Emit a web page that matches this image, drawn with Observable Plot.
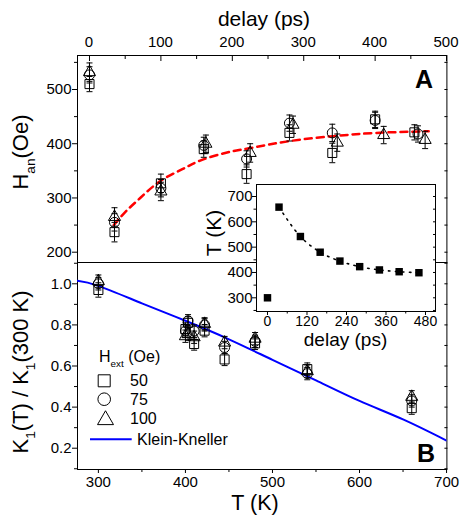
<!DOCTYPE html>
<html><head><meta charset="utf-8">
<script src="https://cdn.jsdelivr.net/npm/d3@7"></script>
<script src="https://cdn.jsdelivr.net/npm/@observablehq/plot@0.6"></script>
<style>
html,body{margin:0;padding:0;background:#fff;overflow:hidden;}
#chart{width:461px;height:518px;}
</style>
</head><body><div id="chart"></div>
<script>
// ---------------- data ----------------
// Panel A: anisotropy field H_an (Oe) vs delay (ps) for three external fields
const delay50  = [0, 35, 100, 160, 220, 280, 340, 400, 455];
const delay75  = [0, 35, 100, 160, 220, 280, 340, 400, 460];
const delay100 = [0, 35, 100, 163, 225, 285, 347, 412, 470];
const han50     = [510, 237, 327, 390, 344, 420, 383, 445, 421];
const han50Err  = [14, 18, 17, 15, 17, 15, 18, 15, 14];
const han75     = [527, 255, 318, 397, 372, 438, 420, 443, 418];
const han75Err  = [15, 16, 16, 15, 15, 15, 16, 15, 15];
const han100    = [532, 265, 312, 400, 383, 435, 402, 416, 407];
const han100Err = [17, 17, 17, 16, 17, 16, 16, 16, 16];
// red dashed guide curve
const fitDelay = [34, 50, 71, 99, 130, 155, 190, 225, 281, 342, 402, 475];
const fitHan   = [250, 274, 300, 331, 353, 369, 383, 392, 405, 414, 420, 423];

// Panel B: K1(T)/K1(300 K) vs T (K)
const tempK   = [300, 660, 540, 480, 445, 422, 410, 403, 400];
const k50     = [0.97, 0.395, 0.585, 0.71, 0.632, 0.772, 0.707, 0.81, 0.78];
const k50Err  = [0.035, 0.03, 0.03, 0.03, 0.03, 0.03, 0.03, 0.03, 0.03];
const k75     = [1.0, 0.43, 0.563, 0.72, 0.69, 0.80, 0.77, 0.82, 0.77];
const k75Err  = [0.03, 0.03, 0.03, 0.03, 0.03, 0.03, 0.03, 0.03, 0.03];
const k100    = [1.013, 0.45, 0.575, 0.733, 0.714, 0.805, 0.74, 0.755, 0.745];
const k100Err = [0.03, 0.03, 0.03, 0.03, 0.03, 0.03, 0.03, 0.03, 0.03];
// Klein-Kneller curve
const kkT     = [276, 300, 350, 400, 450, 500, 550, 600, 650, 700];
const kkRatio = [1.015, 0.99, 0.905, 0.82, 0.73, 0.63, 0.53, 0.43, 0.34, 0.237];

// Inset: temperature T (K) vs delay (ps)
const insetDelay = [0, 35, 100, 160, 220, 280, 340, 400, 460];
const insetTemp  = [300, 658, 542, 480, 445, 423, 410, 403, 399];

// tick values
const delayTicks = [0, 100, 200, 300, 400, 500];
const delayMinor = [50, 150, 250, 350, 450];
const hanTicks = [200, 300, 400, 500];
const hanMinor = [250, 350, 450, 550];
const tempTicks = [300, 400, 500, 600, 700];
const tempMinor = [350, 450, 550, 650];
const ratioTicks = [0.2, 0.4, 0.6, 0.8, 1.0];
const ratioMinor = [0.1, 0.3, 0.5, 0.7, 0.9, 1.1];
const insetDelayTicks = [0, 120, 240, 360, 480];
const insetDelayMinor = [60, 180, 300, 420];
const insetTempTicks = [300, 400, 500, 600, 700];
const insetTempMinor = [250, 350, 450, 550, 650];

// ---------------- layout ----------------
const FONT = "Liberation Sans, Arial, Helvetica, sans-serif";
const W = 461, H = 518;
const L = 77, R = 446.4, TOPA = 55, MID = 262, BOTB = 469;
const IN = {l: 256, r: 435, t: 184, b: 311};

const capSymbol = {draw(ctx, size) { const r = Math.sqrt(size / Math.PI); ctx.moveTo(-r, 0); ctx.lineTo(r, 0); }};
const noText = () => "";

function seriesMarks(series) {
  return series.flatMap(s => [
    Plot.ruleX(s.rows, {x: "x", y1: d => d.y - d.e, y2: d => d.y + d.e, stroke: "black", strokeWidth: 1}),
    Plot.dot(s.rows, {x: "x", y: d => d.y - d.e, symbol: capSymbol, r: 3, stroke: "black", strokeWidth: 1}),
    Plot.dot(s.rows, {x: "x", y: d => d.y + d.e, symbol: capSymbol, r: 3, stroke: "black", strokeWidth: 1}),
    Plot.dot(s.rows, {x: "x", y: "y", symbol: s.symbol, r: s.r, stroke: "black", strokeWidth: 1, fill: "none"})
  ]);
}
const rows = (xs, ys, es) => xs.map((x, i) => ({x, y: ys[i], e: es[i]}));

const seriesA = [
  {symbol: "square", r: 5.1, rows: rows(delay50, han50, han50Err)},
  {symbol: "circle", r: 5, rows: rows(delay75, han75, han75Err)},
  {symbol: "triangle", r: 4.5, rows: rows(delay100, han100, han100Err)}
];
const seriesB = [
  {symbol: "square", r: 5.1, rows: rows(tempK, k50, k50Err)},
  {symbol: "circle", r: 5, rows: rows(tempK, k75, k75Err)},
  {symbol: "triangle", r: 4.5, rows: rows(tempK, k100, k100Err)}
];
const fitRows = fitDelay.map((x, i) => ({x, y: fitHan[i]}));
const kkRows = kkT.map((x, i) => ({x, y: kkRatio[i]}));
const insetRows = insetDelay.map((x, i) => ({x, y: insetTemp[i]}));

const base = {width: W, height: H, style: {fontFamily: FONT, background: "transparent", color: "black"}};

const plotA = Plot.plot({
  ...base, style: {fontFamily: FONT, background: "white", color: "black"},
  marginLeft: L, marginRight: W - R, marginTop: TOPA, marginBottom: H - MID,
  x: {domain: [-16.8, 500.5]}, y: {domain: [181, 562.7]},
  marks: [
    Plot.frame({stroke: "black"}),
    Plot.axisX(delayTicks, {anchor: "top", tickSize: -5, tickFormat: noText, label: null}),
    Plot.axisX(delayMinor, {anchor: "top", tickSize: -3, tickFormat: noText, label: null}),
    Plot.axisY(hanTicks, {anchor: "left", tickSize: 5, tickFormat: noText, label: null}),
    Plot.axisY(hanMinor, {anchor: "left", tickSize: 3, tickFormat: noText, label: null}),
    Plot.axisY(hanTicks, {anchor: "left", tickSize: 0, tickPadding: 6, fontSize: 15, label: null}),
    Plot.axisY(hanTicks.concat(hanMinor), {anchor: "right", tickSize: -3, tickFormat: noText, label: null}),
    Plot.line(fitRows, {x: "x", y: "y", stroke: "#ff0000", strokeWidth: 2.5, strokeDasharray: "7,5", curve: "natural"}),
    ...seriesMarks(seriesA)
  ]
});
const xA = plotA.scale("x");

const plotB = Plot.plot({
  ...base,
  marginLeft: L, marginRight: W - R, marginTop: MID, marginBottom: H - BOTB,
  x: {domain: [276, 700.4]}, y: {domain: [0.0964, 1.1037]},
  marks: [
    Plot.frame({stroke: "black"}),
    Plot.axisX(tempTicks, {anchor: "bottom", tickSize: 4, tickFormat: noText, label: null}),
    Plot.axisX(tempMinor, {anchor: "bottom", tickSize: 3, tickFormat: noText, label: null}),
    Plot.axisX(tempTicks, {anchor: "bottom", tickSize: 0, tickPadding: 7, fontSize: 15, label: null}),
    Plot.axisY(ratioTicks, {anchor: "left", tickSize: 5, tickFormat: noText, label: null}),
    Plot.axisY(ratioMinor, {anchor: "left", tickSize: 3, tickFormat: noText, label: null}),
    Plot.axisY(ratioTicks, {anchor: "left", tickSize: 0, tickPadding: 6, fontSize: 15, tickFormat: d3.format(".1f"), label: null}),
    Plot.axisY(ratioTicks.concat(ratioMinor), {anchor: "right", tickSize: -3, tickFormat: noText, label: null}),
    Plot.line(kkRows, {x: "x", y: "y", stroke: "#0000ff", strokeWidth: 2, curve: "natural", clip: true}),
    ...seriesMarks(seriesB)
  ]
});

const plotI = Plot.plot({
  ...base,
  marginLeft: IN.l, marginRight: W - IN.r, marginTop: IN.t, marginBottom: H - IN.b,
  x: {domain: [-33.4, 510.4]}, y: {domain: [245.9, 747.4]},
  marks: [
    Plot.frame({stroke: "black", fill: "white"}),
    Plot.axisX(insetDelayTicks, {anchor: "bottom", tickSize: 4, tickFormat: noText, label: null}),
    Plot.axisX(insetDelayMinor, {anchor: "bottom", tickSize: 2.5, tickFormat: noText, label: null}),
    Plot.axisX(insetDelayTicks, {anchor: "bottom", tickSize: 0, tickPadding: 4.5, fontSize: 14, label: null}),
    Plot.axisY(insetTempTicks, {anchor: "left", tickSize: 4, tickFormat: noText, label: null}),
    Plot.axisY(insetTempMinor, {anchor: "left", tickSize: 2.5, tickFormat: noText, label: null}),
    Plot.axisY(insetTempTicks, {anchor: "left", tickSize: 0, tickPadding: 4, fontSize: 15, label: null}),
    Plot.axisY(insetTempTicks.concat(insetTempMinor), {anchor: "right", tickSize: -3, tickFormat: noText, label: null}),
    Plot.line(insetRows.slice(1), {x: "x", y: "y", stroke: "black", strokeWidth: 1.6, strokeDasharray: "1.5,5.5", strokeLinecap: "round", curve: "monotone-x"}),
    Plot.dot(insetRows, {x: "x", y: "y", symbol: "square", r: 4.2, fill: "black"})
  ]
});

// merge into one SVG
const NS = "http://www.w3.org/2000/svg";
function mergeInto(main, other) {
  const g = document.createElementNS(NS, "g");
  g.setAttribute("fill", "black");
  g.setAttribute("font-family", FONT);
  g.setAttribute("font-size", other.getAttribute("font-size") || "10");
  g.setAttribute("text-anchor", other.getAttribute("text-anchor") || "middle");
  while (other.firstChild) g.appendChild(other.firstChild);
  main.appendChild(g);
}
mergeInto(plotA, plotB);
mergeInto(plotA, plotI);

const svg = d3.select(plotA);
function label({x, y, rotate = 0, size, weight = "normal", anchor = "middle", parts}) {
  const t = svg.append("text")
    .attr("transform", `translate(${x},${y}) rotate(${rotate})`)
    .attr("text-anchor", anchor).attr("font-size", size).attr("font-weight", weight)
    .attr("font-family", FONT).attr("fill", "black");
  let shift = 0;
  for (const p of parts) {
    const ts = t.append("tspan").text(p.t);
    if (p.sub) { const s = size * 0.3; ts.attr("font-size", size * 0.62).attr("dy", s - shift); shift = s; }
    else if (shift) { ts.attr("dy", -shift); shift = 0; }
  }
}
label({x: 264, y: 26, size: 21, parts: [{t: "delay (ps)"}]});
label({x: 255, y: 509.5, size: 21.5, parts: [{t: "T (K)"}]});
label({x: 28, y: 152, rotate: -90, size: 22, parts: [{t: "H"}, {t: "an", sub: true}, {t: "(Oe)"}]});
label({x: 28, y: 372, rotate: -90, size: 22, parts: [{t: "K"}, {t: "1", sub: true}, {t: "(T) / K"}, {t: "1", sub: true}, {t: "(300 K)"}]});
label({x: 221, y: 233, rotate: -90, size: 21, parts: [{t: "T (K)"}]});
label({x: 345.5, y: 345.5, size: 19, parts: [{t: "delay (ps)"}]});
label({x: 424, y: 87.5, size: 25, weight: "bold", parts: [{t: "A"}]});
label({x: 426, y: 462, size: 25, weight: "bold", parts: [{t: "B"}]});

// legend
const lg = svg.append("g").attr("fill", "none").attr("stroke", "black").attr("stroke-width", 1);
lg.append("path").attr("transform", "translate(104.2,380.8)").attr("d", d3.symbol(d3.symbolSquare, 144)());
lg.append("path").attr("transform", "translate(104.2,399.2)").attr("d", d3.symbol(d3.symbolCircle, Math.PI * 6.3 * 6.3)());
lg.append("path").attr("transform", "translate(105.5,420)").attr("d", d3.symbol(d3.symbolTriangle, Math.sqrt(3) / 4 * 16 * 16)());
svg.append("line").attr("x1", 90).attr("x2", 131.7).attr("y1", 439.3).attr("y2", 439.3).attr("stroke", "#0000ff").attr("stroke-width", 2);
label({x: 99, y: 361.7, size: 16, anchor: "start", parts: [{t: "H"}, {t: "ext", sub: true}, {t: " (Oe)"}]});
label({x: 130, y: 386, size: 16, anchor: "start", parts: [{t: "50"}]});
label({x: 130, y: 405, size: 16, anchor: "start", parts: [{t: "75"}]});
label({x: 130, y: 424, size: 16, anchor: "start", parts: [{t: "100"}]});
label({x: 137, y: 445, size: 16, anchor: "start", parts: [{t: "Klein-Kneller"}]});

// top delay tick labels, placed through panel A's x scale
for (const d of delayTicks) label({x: xA.apply(d), y: TOPA - 8, size: 15, parts: [{t: String(d)}]});

document.getElementById("chart").appendChild(plotA);
</script>
</body></html>
